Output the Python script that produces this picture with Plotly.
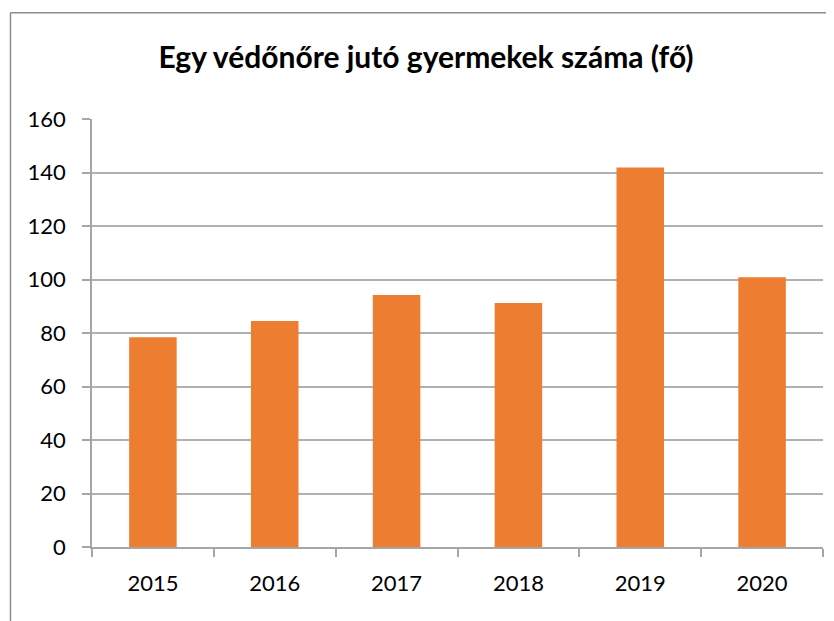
import plotly.graph_objects as go

years = ["2015", "2016", "2017", "2018", "2019", "2020"]
values = [78.4, 84.5, 94.2, 91.2, 141.9, 100.8]
y_ticks = [0, 20, 40, 60, 80, 100, 120, 140, 160]

# the page body adds an 8px offset; figure coords = screen coords - 8
OFF = 8
W, H = 834, 621
L = 92 - OFF
T = 118.7 - OFF
R = W - (822.7 - OFF)
B = H - (546.7 - OFF)
pw = W - L - R
ph = H - T - B

fig = go.Figure(go.Bar(
    x=years, y=values,
    marker=dict(color="#ED7D31", line=dict(width=0)),
    width=0.39,
))

font_family = "Lato, Open Sans, sans-serif"

def px_x(px):
    return (px - OFF - L) / pw

def px_y(py):
    return (H - B - (py - OFF)) / ph

fig.update_layout(
    width=W, height=H,
    margin=dict(l=L, r=R, t=T, b=B, autoexpand=False),
    paper_bgcolor="white", plot_bgcolor="white",
    showlegend=False,
    title=dict(
        text="<b>Egy védőnőre jutó gyermekek száma (fő)</b>",
        x=((155 + 697) / 2 - OFF) / W, xanchor="center", xref="container",
        y=1 - (57 - OFF) / H, yanchor="middle", yref="container",
        font=dict(family=font_family, size=30, color="black"),
    ),
    font=dict(family=font_family, size=22, color="black"),
    xaxis=dict(
        type="category", automargin=False,
        showline=True, linecolor="#a6a6a6", linewidth=1.5,
        ticks="outside", tickson="boundaries", ticklen=8, tickcolor="#a6a6a6", tickwidth=1.5,
        showgrid=False,
        tickfont=dict(size=22, family=font_family, color="black"),
        ticklabelstandoff=16,
    ),
    yaxis=dict(
        range=[0, 160], tickvals=y_ticks, automargin=False,
        showline=True, linecolor="#a6a6a6", linewidth=1.5,
        ticks="outside", ticklen=8, tickcolor="#a6a6a6", tickwidth=1.5,
        showgrid=True, gridcolor="#b0b0b0", gridwidth=1.5,
        zeroline=False,
        tickfont=dict(size=22, family=font_family, color="black"),
        ticklabelstandoff=12,
    ),
    shapes=[
        dict(type="line", xref="paper", yref="paper",
             x0=px_x(10.5), x1=px_x(850), y0=px_y(12.5), y1=px_y(12.5),
             line=dict(color="#8c8c8c", width=1.5)),
        dict(type="line", xref="paper", yref="paper",
             x0=px_x(10.5), x1=px_x(10.5), y0=px_y(12.5), y1=px_y(640),
             line=dict(color="#8c8c8c", width=1.5)),
    ],
)

fig.write_html("out.html")
